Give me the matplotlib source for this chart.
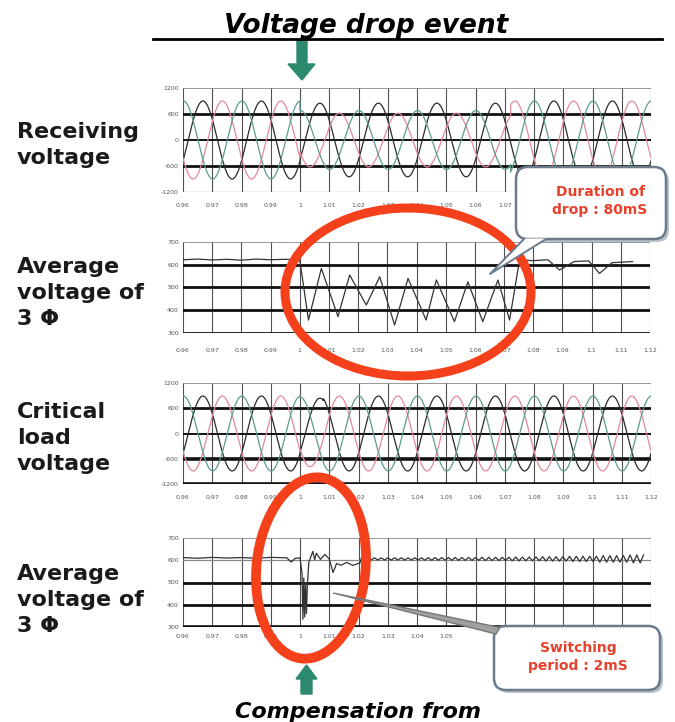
import numpy as np
import matplotlib.pyplot as plt
from matplotlib.patches import Ellipse, FancyBboxPatch, Polygon

# ---- data ----
time_ticks = [0.96, 0.97, 0.98, 0.99, 1.00, 1.01, 1.02, 1.03, 1.04,
              1.05, 1.06, 1.07, 1.08, 1.09, 1.10, 1.11, 1.12]
time_labels = ["0.96", "0.97", "0.98", "0.99", "1", "1.01", "1.02", "1.03", "1.04",
               "1.05", "1.06", "1.07", "1.08", "1.09", "1.1", "1.11", "1.12"]

wave_ticks = [1200, 600, 0, -600, -1200]
wave_labels = ["1200", "600", "0", "-600", "-1200"]
avg_ticks = [700, 600, 500, 400, 300]
avg_labels = ["700", "600", "500", "400", "300"]

freq = 50.0
first_peak = 0.9668
phase_shift = [0, -120, 120]
phase_colors = ["#2a2a2a", "#e3899b", "#5c9c8d"]

# receiving voltage: peak per phase, normal and during the sag
recv_amp = [900, 900, 900]
recv_amp_sag = [850, 620, 680]
sag_start, sag_end = 1.0, 1.072

# critical load voltage: almost untouched, tiny dip at switch-in
load_amp = [890, 890, 890]
load_amp_dip = [840, 790, 860]
dip_start, dip_end = 1.0, 1.008

# average voltage of 3 phases at the receiving end
avg_recv_t = [0.960, 0.965, 0.970, 0.975, 0.980, 0.985, 0.990, 0.995, 1.000,
              1.0030, 1.0074, 1.0131, 1.0171, 1.0228, 1.0274, 1.0325, 1.0371,
              1.0433, 1.0468, 1.0530, 1.0576, 1.0627, 1.0679, 1.0719, 1.0753,
              1.080, 1.085, 1.0890, 1.094, 1.099, 1.1027, 1.107, 1.114]
avg_recv_v = [622, 625, 621, 624, 620, 625, 622, 624, 621,
              357, 584, 372, 555, 423, 547, 335, 540,
              357, 533, 350, 525, 350, 533, 357, 621,
              618, 622, 577, 614, 617, 562, 609, 614]

# average voltage of 3 phases at the critical load (compensated)
comp_t = [0.960, 0.965, 0.970, 0.975, 0.980, 0.985, 0.990, 0.9955, 0.997, 0.9983,
          1.0000, 1.0007, 1.0010, 1.0013, 1.0016, 1.0019, 1.0022, 1.0025, 1.0030,
          1.0044, 1.0050, 1.0056, 1.0070, 1.0085, 1.0100, 1.0113, 1.0125, 1.0140,
          1.0160, 1.0180, 1.0205, 1.0210, 1.0220]
comp_v = [612, 609, 613, 610, 612, 609, 613, 611, 592, 608,
          611, 540, 335, 520, 345, 500, 360, 480, 590,
          640, 602, 632, 604, 626, 606, 545, 585, 578,
          590, 577, 588, 612, 607]
ripple_level = 606
ripple_pp = [10, 10, 12, 13, 15, 17, 20, 24, 30, 36]
ripple_half = 0.00115

W, H = 675, 722
fig = plt.figure(figsize=(W / 100, H / 100), dpi=100)


def px_axes(x0, y0, x1, y1):
    return fig.add_axes([x0 / W, 1 - y1 / H, (x1 - x0) / W, (y1 - y0) / H])


def style_axes(ax, ticks, labels, widths, xpad, last_label=None):
    # labels past last_label sit under a callout box in the original, so leave them out
    shown = [lab if last_label is None or tk <= last_label else ""
             for tk, lab in zip(time_ticks, time_labels)]
    ax.set_xlim(time_ticks[0], time_ticks[-1])
    ax.set_ylim(ticks[-1], ticks[0])
    ax.set_xticks(time_ticks, shown)
    ax.set_yticks(ticks, labels)
    ax.tick_params(axis="both", length=0, labelsize=4.5, labelcolor="#555555")
    ax.tick_params(axis="x", pad=xpad)
    ax.tick_params(axis="y", pad=3)
    for s in ax.spines.values():
        s.set_visible(False)
    for t in time_ticks:
        ax.axvline(t, color="#505050", lw=0.8, zorder=1)
    for y, lw in zip(ticks, widths):
        ax.axhline(y, color="#111111" if lw > 1 else "#888888", lw=lw, zorder=1)


def three_phase(t, amp, amp_event, start, end):
    inside = (t >= start) & (t < end)
    waves = []
    for k, shift in enumerate(phase_shift):
        a = np.where(inside, amp_event[k], amp[k])
        waves.append(a * np.cos(2 * np.pi * freq * (t - first_peak) + np.radians(shift)))
    return waves


t = np.linspace(time_ticks[0], time_ticks[-1], 3000)

# panel 1 - receiving voltage
ax1 = px_axes(183, 88, 651, 192)
style_axes(ax1, wave_ticks, wave_labels, [0.6, 2.0, 1.4, 2.0, 0.9], 8, last_label=1.07)
for w, c in zip(three_phase(t, recv_amp, recv_amp_sag, sag_start, sag_end), phase_colors):
    ax1.plot(t, w, color=c, lw=0.9, zorder=2)

# panel 2 - average voltage at receiving end
ax2 = px_axes(183, 242, 650, 333)
style_axes(ax2, avg_ticks, avg_labels, [0.6, 2.0, 2.0, 2.0, 2.0], 11)
ax2.plot(avg_recv_t, avg_recv_v, color="#333333", lw=0.9, zorder=2)

# panel 3 - critical load voltage
ax3 = px_axes(183, 383, 651, 484)
style_axes(ax3, wave_ticks, wave_labels, [0.6, 2.0, 1.4, 2.6, 2.6], 8)
for w, c in zip(three_phase(t, load_amp, load_amp_dip, dip_start, dip_end), phase_colors):
    ax3.plot(t, w, color=c, lw=0.9, zorder=2)

# panel 4 - compensated average voltage
ripple_t = np.arange(comp_t[-1] + ripple_half, 1.118, ripple_half)
seg = np.minimum(((ripple_t - comp_t[-1]) / 0.01).astype(int), len(ripple_pp) - 1)
sign = np.where(np.arange(len(ripple_t)) % 2 == 0, 1, -1)
ripple_v = ripple_level + sign * np.array(ripple_pp)[seg] / 2
ax4 = px_axes(183, 538, 651, 627)
style_axes(ax4, avg_ticks, avg_labels, [0.6, 0.9, 2.0, 2.0, 2.6], 5, last_label=1.05)
ax4.plot(np.concatenate([comp_t, ripple_t]), np.concatenate([comp_v, ripple_v]),
         color="#333333", lw=0.9, zorder=2)

# ---- overlay in pixel space for titles, labels and callouts ----
ov = fig.add_axes([0, 0, 1, 1], facecolor="none")
ov.set_xlim(0, W)
ov.set_ylim(H, 0)
ov.axis("off")

ov.text(366, 33, "Voltage drop event", ha="center", va="baseline", fontsize=19,
        fontweight="bold", style="italic")
ov.plot([153, 662], [39, 39], color="black", lw=2)
ov.text(358, 718, "Compensation from", ha="center", va="baseline", fontsize=16,
        fontweight="bold", style="italic")

teal = "#2b8a6e"
ov.add_patch(Polygon([(297, 40), (307, 40), (307, 64), (315, 64), (302, 80),
                      (288, 64), (297, 64)], closed=True, color=teal))
ov.add_patch(Polygon([(301, 694), (312, 694), (312, 679), (317, 679), (306.5, 665),
                      (296, 679), (301, 679)], closed=True, color=teal))

side_labels = [("Receiving\nvoltage", 145), ("Average\nvoltage of\n3 Φ", 293),
               ("Critical\nload\nvoltage", 438), ("Average\nvoltage of\n3 Φ", 600)]
for txt, yc in side_labels:
    ov.text(17, yc, txt, ha="left", va="center", fontsize=16, fontweight="bold",
            color="#1a1a1a", linespacing=1.35)

red = "#f4411c"
ov.add_patch(Ellipse((408, 292), 246, 168, fill=False, ec=red, lw=6.5))
ov.add_patch(Ellipse((311, 568), 109, 182, angle=6, fill=False, ec=red, lw=7))

edge = "#6b7b8c"
# callout 1
ov.add_patch(FancyBboxPatch((519, 170), 150, 72, boxstyle="round,pad=0,rounding_size=12",
                            fc="#b8c0c8", ec="none"))
ov.add_patch(FancyBboxPatch((516, 167), 150, 72, boxstyle="round,pad=0,rounding_size=12",
                            fc="white", ec=edge, lw=1.8))
ov.add_patch(Polygon([(524, 238.5), (546, 238.5), (490, 274)], closed=True, fc="white", ec="none"))
ov.plot([524, 490, 546], [239, 274, 239], color=edge, lw=1.4)
ov.text(600, 201, "Duration of\ndrop : 80mS", ha="center", va="center", fontsize=10,
        fontweight="bold", color="#e8402a", linespacing=1.35)

# callout 2
ov.add_patch(FancyBboxPatch((497, 629), 166, 64, boxstyle="round,pad=0,rounding_size=12",
                            fc="#b8c0c8", ec="none"))
ov.add_patch(FancyBboxPatch((494, 626), 166, 64, boxstyle="round,pad=0,rounding_size=12",
                            fc="white", ec=edge, lw=1.8))
ov.add_patch(Polygon([(333, 593), (500, 627.5), (496, 634)], closed=True,
                     fc="#a0a0a0", ec="#777777", lw=1))
ov.text(578, 657, "Switching\nperiod : 2mS", ha="center", va="center", fontsize=10,
        fontweight="bold", color="#e8402a", linespacing=1.35)

fig.savefig("out.png", dpi=100)
